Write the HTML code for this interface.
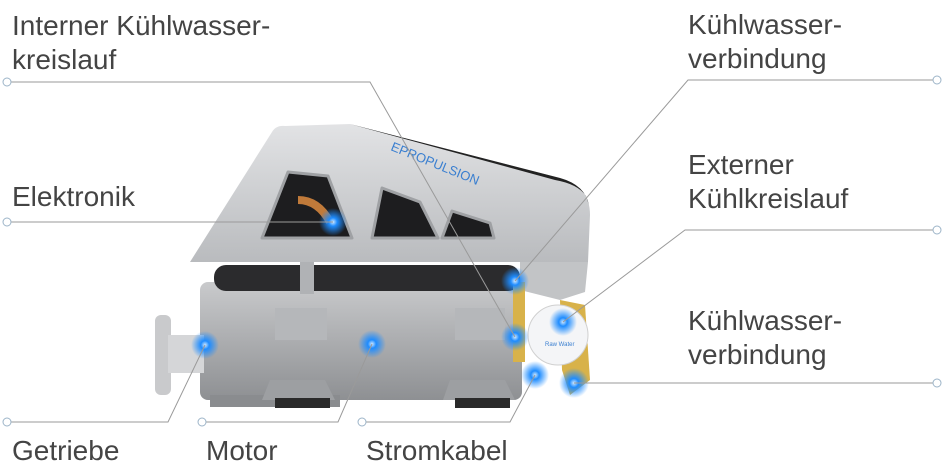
<!DOCTYPE html>
<html><head><meta charset="utf-8"><style>
html,body{margin:0;padding:0;background:#fff;}
svg{display:block}
text{font-family:"Liberation Sans",sans-serif;font-size:28px;fill:#444;}
</style></head><body>
<svg width="944" height="467" viewBox="0 0 944 467" xmlns="http://www.w3.org/2000/svg">
<defs>
<linearGradient id="cov" x1="0" y1="0" x2="0" y2="1"><stop offset="0" stop-color="#e2e3e5"/><stop offset="1" stop-color="#b9bbbe"/></linearGradient>
<linearGradient id="blk" x1="0" y1="0" x2="0" y2="1"><stop offset="0" stop-color="#c9cacc"/><stop offset="1" stop-color="#8e9093"/></linearGradient>
<radialGradient id="glow"><stop offset="0" stop-color="#cfe8ff"/><stop offset="0.3" stop-color="#1e8cff"/><stop offset="1" stop-color="#1e8cff" stop-opacity="0"/></radialGradient>
</defs>
<rect x="200" y="282" width="322" height="118" rx="8" fill="url(#blk)"/>
<rect x="210" y="395" width="130" height="12" fill="#8a8c8f"/>
<rect x="214" y="265" width="306" height="26" rx="12" fill="#2b2b2d"/>
<rect x="300" y="262" width="14" height="32" fill="#b0b2b5"/>
<path d="M190 262 L272 132 Q276 125 285 126 L350 124 L560 178 Q590 186 590 215 L588 262 Z" fill="url(#cov)"/>
<path d="M350 124 L560 178 Q585 185 589 205 L586 196 Q578 184 555 180 Z" fill="#222"/>
<path d="M262 238 L288 172 L328 176 L352 238 Z" fill="#1d1d1f" stroke="#9fa1a4" stroke-width="3" stroke-linejoin="round"/>
<path d="M298 200 Q318 200 330 222" stroke="#c07a3a" stroke-width="8" fill="none"/>
<path d="M372 238 L382 188 L420 202 L438 238 Z" fill="#1d1d1f" stroke="#9fa1a4" stroke-width="3" stroke-linejoin="round"/>
<path d="M442 238 L452 211 L490 223 L494 238 Z" fill="#1d1d1f" stroke="#9fa1a4" stroke-width="3" stroke-linejoin="round"/>
<text x="390" y="150" style="font-size:13px;fill:#3a7fd0" transform="rotate(22 390 150)">EPROPULSION</text>
<path d="M520 262 L588 262 L585 292 L560 300 L520 290 Z" fill="#c2c4c6"/>
<rect x="275" y="308" width="52" height="32" fill="#b5b7ba"/>
<rect x="455" y="308" width="50" height="32" fill="#b5b7ba"/>
<path d="M270 380 L325 380 L335 400 L262 400 Z" fill="#9d9fa2"/>
<path d="M450 380 L505 380 L515 400 L443 400 Z" fill="#9d9fa2"/>
<rect x="275" y="398" width="55" height="10" fill="#2a2a2a"/>
<rect x="455" y="398" width="55" height="10" fill="#2a2a2a"/>
<rect x="155" y="315" width="16" height="80" rx="6" fill="#c9cacc"/>
<rect x="168" y="335" width="36" height="38" fill="#d5d6d8"/>
<rect x="513" y="282" width="12" height="80" fill="#d8b24a"/>
<path d="M560 300 L585 305 L590 380 L570 395 L562 370 Z" fill="#d8b24a"/>
<circle cx="558" cy="335" r="30" fill="#f4f5f7" stroke="#d0d0d0"/>
<text x="545" y="346" style="font-size:6px;fill:#3a7fd0">Raw Water</text>
<g fill="url(#glow)">
<circle cx="333" cy="222" r="14"/><circle cx="205" cy="345" r="14"/><circle cx="372" cy="344" r="14"/>
<circle cx="515" cy="281" r="14"/><circle cx="515" cy="337" r="14"/><circle cx="563" cy="322" r="14"/>
<circle cx="574" cy="383" r="15"/><circle cx="535" cy="375" r="14"/>
</g>
<g stroke="#9a9a9a" stroke-width="1" fill="none">
<polyline points="10,82 370,82 515,337"/>
<polyline points="934,80 688,80 515,281"/>
<polyline points="10,222 333,222"/>
<polyline points="934,230 685,230 563,322"/>
<polyline points="934,383 574,383"/>
<polyline points="10,422 168,422 205,345"/>
<polyline points="205,422 338,422 372,344"/>
<polyline points="365,422 510,422 535,375"/>
</g>
<g stroke="#9cb4c8" stroke-width="1" fill="#fff">
<circle cx="7" cy="82" r="4"/><circle cx="937" cy="80" r="4"/><circle cx="7" cy="222" r="4"/>
<circle cx="937" cy="230" r="4"/><circle cx="937" cy="383" r="4"/><circle cx="7" cy="422" r="4"/>
<circle cx="202" cy="422" r="4"/><circle cx="362" cy="422" r="4"/>
</g>
<text x="12" y="35">Interner Kühlwasser-</text>
<text x="12" y="69">kreislauf</text>
<text x="12" y="206">Elektronik</text>
<text x="12" y="460">Getriebe</text>
<text x="206" y="460">Motor</text>
<text x="366" y="460">Stromkabel</text>
<text x="688" y="34">Kühlwasser-</text>
<text x="688" y="68">verbindung</text>
<text x="688" y="174">Externer</text>
<text x="688" y="208">Kühlkreislauf</text>
<text x="688" y="330">Kühlwasser-</text>
<text x="688" y="364">verbindung</text>
</svg>
</body></html>
